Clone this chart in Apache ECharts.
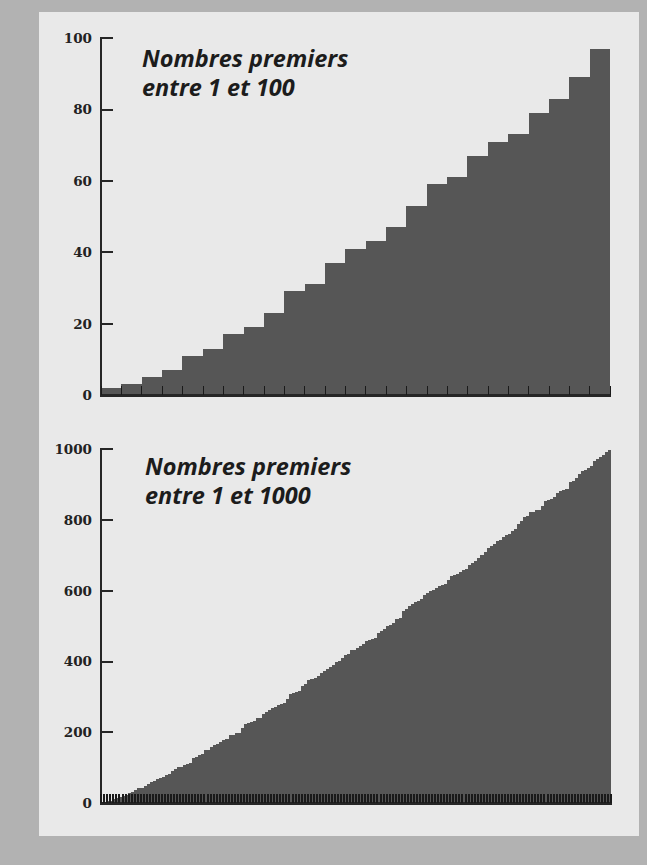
<!DOCTYPE html>
<html>
<head>
<meta charset="utf-8">
<script src="https://cdn.jsdelivr.net/npm/echarts@6/dist/echarts.min.js"></script>
<style>
html,body{margin:0;padding:0;background:#b0b0b0;}
#c{width:647px;height:865px;}
#c svg path{shape-rendering:crispEdges;}
</style>
</head>
<body>
<div id="c"></div>
<script>
// Top panel: primes between 1 and 100
const primes100 = [2,3,5,7,11,13,17,19,23,29,31,37,41,43,47,53,59,61,67,71,73,79,83,89,97];
// Bottom panel: primes between 1 and 1000
const primes1000 = [
  2,3,5,7,11,13,17,19,23,29,31,37,41,43,47,53,59,61,67,71,73,79,83,89,97,
  101,103,107,109,113,127,131,137,139,149,151,157,163,167,173,179,181,191,193,197,199,
  211,223,227,229,233,239,241,251,257,263,269,271,277,281,283,293,
  307,311,313,317,331,337,347,349,353,359,367,373,379,383,389,397,
  401,409,419,421,431,433,439,443,449,457,461,463,467,479,487,491,499,
  503,509,521,523,541,547,557,563,569,571,577,587,593,599,
  601,607,613,617,619,631,641,643,647,653,659,661,673,677,683,691,
  701,709,719,727,733,739,743,751,757,761,769,773,787,797,
  809,811,821,823,827,829,839,853,857,859,863,877,881,883,887,
  907,911,919,929,937,941,947,953,967,971,977,983,991,997
];
const topTitle = "Nombres premiers\nentre 1 et 100";
const bottomTitle = "Nombres premiers\nentre 1 et 1000";
const topTicks = {min:0, max:100, interval:20};
const bottomTicks = {min:0, max:1000, interval:200};

const chart = echarts.init(document.getElementById('c'), null, {renderer:'svg'});
const barColor = '#565656';
const axisColor = '#262626';
const labelFont = {fontFamily:'"DejaVu Serif", "Liberation Serif", serif', fontWeight:'bold', fontSize:13.5, color:'#222'};
const titleFont = {fontFamily:'"Open Sans", sans-serif', fontStyle:'italic', fontWeight:'bold', fontSize:23.5, lineHeight:29.5, color:'#1c1c1c'};

function xAxis(gi, tickWidth){
  return {
    type:'category', gridIndex:gi, data:(gi===0?primes100:primes1000).map(String),
    boundaryGap:true, z:5,
    axisLine:{show:true, lineStyle:{color:axisColor, width:2.5}},
    axisTick:{show:true, inside:true, length:9, interval:0, lineStyle:{color:'#1a1a1a', width:tickWidth}},
    axisLabel:{show:false}, splitLine:{show:false}
  };
}
function yAxis(gi, t){
  return {
    type:'value', gridIndex:gi, min:t.min, max:t.max, interval:t.interval, z:5,
    axisLine:{show:true, lineStyle:{color:axisColor, width:2}},
    axisTick:{show:true, inside:true, length:12, lineStyle:{color:axisColor, width:2}},
    axisLabel:Object.assign({margin:9, verticalAlign:'middle', padding:[0,0,6,0], formatter:function(v){return String(v);}}, labelFont),
    splitLine:{show:false}
  };
}

chart.setOption({
  backgroundColor:'#b2b2b2',
  animation:false,
  graphic:[
    {type:'rect', z:-10, silent:true, shape:{x:39, y:12, width:600, height:824}, style:{fill:'#e9e9e9'}}
  ],
  title:[
    {text:topTitle, left:137, top:38, textStyle:titleFont},
    {text:bottomTitle, left:140, top:446, textStyle:titleFont}
  ],
  grid:[
    {left:101, right:37, top:38, height:357},
    {left:101, right:36, top:449, height:354}
  ],
  xAxis:[xAxis(0, 1), xAxis(1, 2)],
  yAxis:[yAxis(0, topTicks), yAxis(1, bottomTicks)],
  series:[
    {type:'bar', xAxisIndex:0, yAxisIndex:0, data:primes100, barCategoryGap:'0%', itemStyle:{color:barColor}},
    {type:'bar', xAxisIndex:1, yAxisIndex:1, data:primes1000, barCategoryGap:'0%', itemStyle:{color:barColor}}
  ]
});
</script>
</body>
</html>
